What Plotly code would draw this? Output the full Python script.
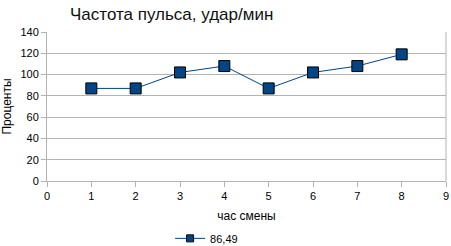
import plotly.graph_objects as go

hours = [1, 2, 3, 4, 5, 6, 7, 8]
pulse = [87, 87, 102, 108, 87, 102, 108, 119]
series_name = "86,49"
title_text = "Частота пульса, удар/мин"
x_title = "час смены"
y_title = "Проценты"

line_color = "#004586"

fig = go.Figure()
fig.add_trace(go.Scatter(
    x=hours, y=pulse, name=series_name, mode="lines+markers", showlegend=False,
    line=dict(color=line_color, width=1),
    marker=dict(symbol="square", size=11, color=line_color,
                line=dict(color="#000000", width=1)),
))
# legend entry with a smaller marker, as in the reference
fig.add_trace(go.Scatter(
    x=[None], y=[None], name=series_name, mode="lines+markers", showlegend=True,
    line=dict(color=line_color, width=1),
    marker=dict(symbol="square", size=7, color=line_color,
                line=dict(color="#000000", width=1)),
))

axis_common = dict(showline=True, linecolor="#b3b3b3", linewidth=1,
                   ticks="outside", ticklen=5, tickcolor="#b3b3b3",
                   tickfont=dict(size=11, color="#000000"), zeroline=False,
                   automargin=False)

fig.update_layout(
    width=451, height=246,
    margin=dict(l=47, r=5, t=32, b=65, autoexpand=False),
    paper_bgcolor="white", plot_bgcolor="white",
    font=dict(family="Liberation Sans, Arial, sans-serif", color="#000000"),
    title=dict(text=title_text, x=70/451, xanchor="left", y=1-14/246, yanchor="middle",
               font=dict(size=17, color="#111111"), automargin=False),
    xaxis=dict(range=[0, 9], dtick=1, showgrid=False,
               title=dict(text=x_title, font=dict(size=12), standoff=10), **axis_common),
    yaxis=dict(range=[0, 140], dtick=20, showgrid=True, gridcolor="#b3b3b3", gridwidth=1,
               title=dict(text=y_title, font=dict(size=12), standoff=8), **axis_common),
    showlegend=True,
    legend=dict(orientation="h", x=0.40, xanchor="center", y=-0.385, yanchor="middle",
                font=dict(size=11), itemwidth=30, bgcolor="rgba(0,0,0,0)"),
)
fig.add_shape(type="line", xref="paper", yref="paper", x0=1, x1=1, y0=0, y1=1,
              line=dict(color="#b3b3b3", width=1))

fig.write_html("out.html")
